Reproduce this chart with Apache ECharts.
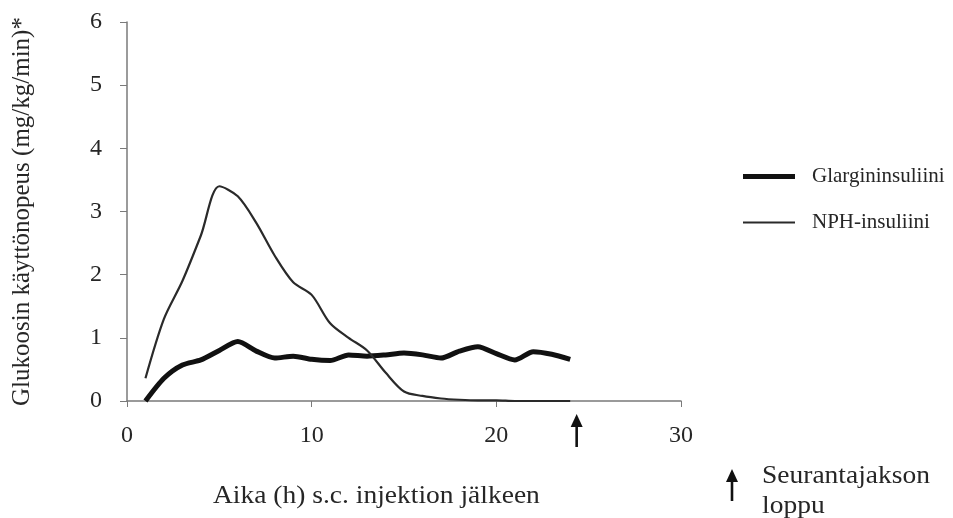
<!DOCTYPE html>
<html><head><meta charset="utf-8">
<script src="https://cdn.jsdelivr.net/npm/echarts@6/dist/echarts.min.js"></script>
<style>html,body{margin:0;padding:0;background:#fff}#c{width:953px;height:518px}</style>
</head><body><div id="c"></div>
<script>
const hours = [1,2,3,4,5,6,7,8,9,10,11,12,13,14,15,16,17,18,19,20,21,22,23,24];
const glargine = [0,0.36,0.57,0.65,0.8,0.94,0.79,0.68,0.71,0.66,0.64,0.73,0.71,0.73,0.76,0.73,0.68,0.79,0.86,0.75,0.65,0.78,0.74,0.66];
const nph = [0.36,1.3,1.9,2.62,3.4,3.24,2.82,2.3,1.88,1.68,1.23,1.0,0.8,0.45,0.15,0.08,0.04,0.02,0.01,0.01,0,0,0,0];
const seriesNames = ['Glargininsuliini','NPH-insuliini'];
const xTicks = [0,10,20,30];
const yTicks = [0,1,2,3,4,5,6];
const endOfFollowUp = 24.35;
const FONT = '"Liberation Serif", "Times New Roman", serif';
const TXT = '#262626';

const chart = echarts.init(document.getElementById('c'), null, {renderer:'canvas'});
function legendFor(name, top, h){
  return {orient:'vertical', left:738, top:top, itemWidth:52, itemHeight:h, icon:'rect',
    textStyle:{fontFamily:FONT,fontSize:21,color:TXT,padding:[0,0,0,12]}, data:[name]};
}
const option = {
  animation:false,
  grid:{left:127,right:272,top:22,bottom:117,containLabel:false},
  legend:[legendFor(seriesNames[0],161,5), legendFor(seriesNames[1],207,2)],
  xAxis:{
    type:'value', min:xTicks[0], max:xTicks[xTicks.length-1], interval:10,
    axisLine:{show:true,lineStyle:{color:'#7a7a7a',width:1.5}},
    axisTick:{show:true,length:6,lineStyle:{color:'#7a7a7a'}},
    axisLabel:{fontFamily:FONT,fontSize:24,color:TXT,margin:23},
    splitLine:{show:false}
  },
  yAxis:{
    type:'value', min:yTicks[0], max:yTicks[yTicks.length-1], interval:1,
    name:'Glukoosin käyttönopeus (mg/kg/min)*', nameLocation:'middle', nameGap:92, nameRotate:90,
    nameTextStyle:{fontFamily:FONT,fontSize:25,color:TXT},
    axisLine:{show:true,lineStyle:{color:'#7a7a7a',width:1.5}},
    axisTick:{show:true,length:7,lineStyle:{color:'#7a7a7a'}},
    axisLabel:{fontFamily:FONT,fontSize:24,color:TXT,margin:25},
    splitLine:{show:false}
  },
  series:[
    {name:seriesNames[0],type:'line',data:hours.map((h,i)=>[h,glargine[i]]),
     symbol:'none',smooth:0.25,lineStyle:{color:'#111',width:5},itemStyle:{color:'#111'}},
    {name:seriesNames[1],type:'line',data:hours.map((h,i)=>[h,nph[i]]),
     symbol:'none',smooth:0.3,lineStyle:{color:'#2a2a2a',width:2.2},itemStyle:{color:'#2a2a2a'}}
  ]
};
chart.setOption(option);
const p = chart.convertToPixel({gridIndex:0},[endOfFollowUp,0]);
function arrow(x, yTop, len){
  return {type:'group',x:x,y:yTop,children:[
    {type:'polygon',shape:{points:[[0,0],[-6,13],[6,13]]},style:{fill:'#111'}},
    {type:'line',shape:{x1:0,y1:10,x2:0,y2:len},style:{stroke:'#111',lineWidth:2.6}}
  ]};
}
chart.setOption({graphic:[
  {type:'text',x:213,y:496,scaleX:1.1,style:{text:'Aika (h) s.c. injektion jälkeen',font:'25px '+FONT,fill:TXT,verticalAlign:'middle'}},
  arrow(p[0], p[1]+13, 33),
  arrow(732, 469, 32),
  {type:'text',x:762,y:476,scaleX:1.1,style:{text:'Seurantajakson',font:'25px '+FONT,fill:TXT,verticalAlign:'middle'}},
  {type:'text',x:762,y:506,scaleX:1.1,style:{text:'loppu',font:'25px '+FONT,fill:TXT,verticalAlign:'middle'}}
]});
</script></body></html>
